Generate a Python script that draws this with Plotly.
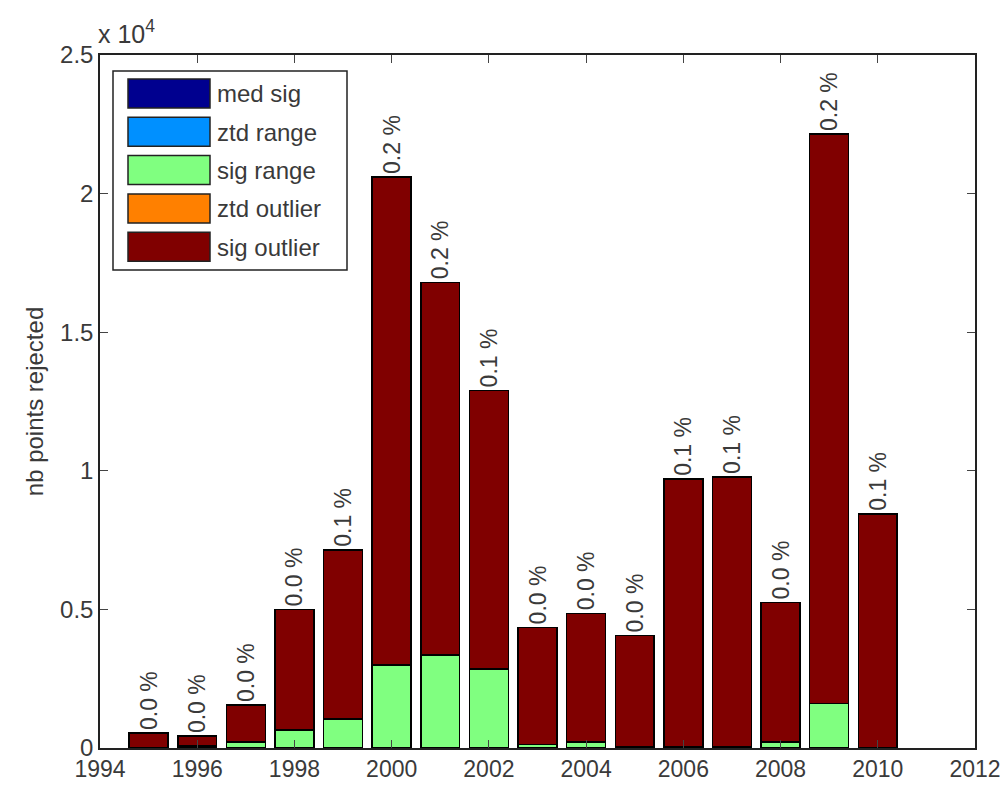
import plotly.graph_objects as go

years = [1995, 1996, 1997, 1998, 1999, 2000, 2001, 2002, 2003, 2004, 2005, 2006, 2007, 2008, 2009, 2010]
totals = [540, 430, 1550, 5000, 7150, 20600, 16800, 12900, 4350, 4860, 4060, 9710, 9780, 5250, 22150, 8450]
sig_range = [0, 70, 220, 650, 1050, 3000, 3350, 2850, 120, 220, 50, 50, 50, 220, 1600, 20]
med_sig = [0] * 16
ztd_range = [0] * 16
ztd_outlier = [0] * 16
sig_outlier = [t - g for t, g in zip(totals, sig_range)]
pct_labels = ["0.0 %", "0.0 %", "0.0 %", "0.0 %", "0.1 %", "0.2 %", "0.2 %", "0.1 %",
              "0.0 %", "0.0 %", "0.0 %", "0.1 %", "0.1 %", "0.0 %", "0.2 %", "0.1 %"]

series_names = ["med sig", "ztd range", "sig range", "ztd outlier", "sig outlier"]
series_colors = ["#00008F", "#0090FF", "#80FF80", "#FF8000", "#800000"]
series_values = [med_sig, ztd_range, sig_range, ztd_outlier, sig_outlier]

x_ticks = list(range(1994, 2013, 2))
y_tickvals = [0, 5000, 10000, 15000, 20000, 25000]
y_ticktext = ["0", "0.5", "1", "1.5", "2", "2.5"]

FONT = "Liberation Sans, Arial, sans-serif"
TXT = "#3a3a3a"
OFF = 8  # page body margin
W, H = 1000, 778
L, R, T, B = 92, 33, 47, 38
PW, PH = W - L - R, H - T - B

fig = go.Figure()
stack_order = [2, 0, 1, 3, 4]
for i in stack_order:
    kw = {}
    if i == 4:
        kw = dict(text=pct_labels, textposition="outside", textangle=-90,
                  textfont=dict(family=FONT, size=23, color=TXT),
                  cliponaxis=False, constraintext="none")
    fig.add_trace(go.Bar(x=years, y=series_values[i], name=series_names[i],
                         marker=dict(color=series_colors[i], line=dict(color="black", width=1.5)),
                         width=0.8, showlegend=False, **kw))

def px2paper(px, py):
    # px, py in screenshot pixels
    return (px - OFF - L) / PW, (H + OFF - B - py) / PH

shapes = []
annotations = []
x0, y0 = px2paper(113, 71)
x1, y1 = px2paper(347, 270)
shapes.append(dict(type="rect", xref="paper", yref="paper", x0=x0, y0=y1, x1=x1, y1=y0,
                   line=dict(color="#222222", width=1.5), fillcolor="white", layer="above"))
for k, (nm, col) in enumerate(zip(series_names, series_colors)):
    top = 79 + k * 38.3
    sx0, sy0 = px2paper(128, top)
    sx1, sy1 = px2paper(210, top + 29)
    shapes.append(dict(type="rect", xref="paper", yref="paper", x0=sx0, y0=sy1, x1=sx1, y1=sy0,
                       line=dict(color="#222222", width=1.5), fillcolor=col, layer="above"))
    tx, ty = px2paper(215, top + 15)
    annotations.append(dict(xref="paper", yref="paper", x=tx, y=ty, text=nm, showarrow=False,
                            xanchor="left", yanchor="middle",
                            font=dict(family=FONT, size=24, color=TXT)))

ax, ay = px2paper(96, 50)
annotations.append(dict(xref="paper", yref="paper", x=ax, y=ay,
                        text="x 10<sup>4</sup>", showarrow=False, xanchor="left", yanchor="bottom",
                        font=dict(family=FONT, size=25, color=TXT)))

fig.update_layout(
    width=W, height=H,
    margin=dict(l=L, r=R, t=T, b=B),
    barmode="stack",
    plot_bgcolor="white", paper_bgcolor="white",
    font=dict(family=FONT, size=23, color=TXT),
    shapes=shapes, annotations=annotations,
    showlegend=False,
)
fig.update_xaxes(range=[1994, 2012], tickvals=x_ticks, ticks="inside", ticklen=8,
                 showline=True, linecolor="#222222", linewidth=1.5, mirror="ticks",
                 showgrid=False, zeroline=False, tickfont=dict(size=23), automargin=False)
fig.update_yaxes(range=[0, 25000], tickvals=y_tickvals, ticktext=y_ticktext, ticks="inside", ticklen=8,
                 showline=True, linecolor="#222222", linewidth=1.5, mirror="ticks",
                 showgrid=False, zeroline=False, tickfont=dict(size=24), automargin=False,
                 title=dict(text="nb points rejected", font=dict(size=24), standoff=10))

fig.write_html("out.html")
